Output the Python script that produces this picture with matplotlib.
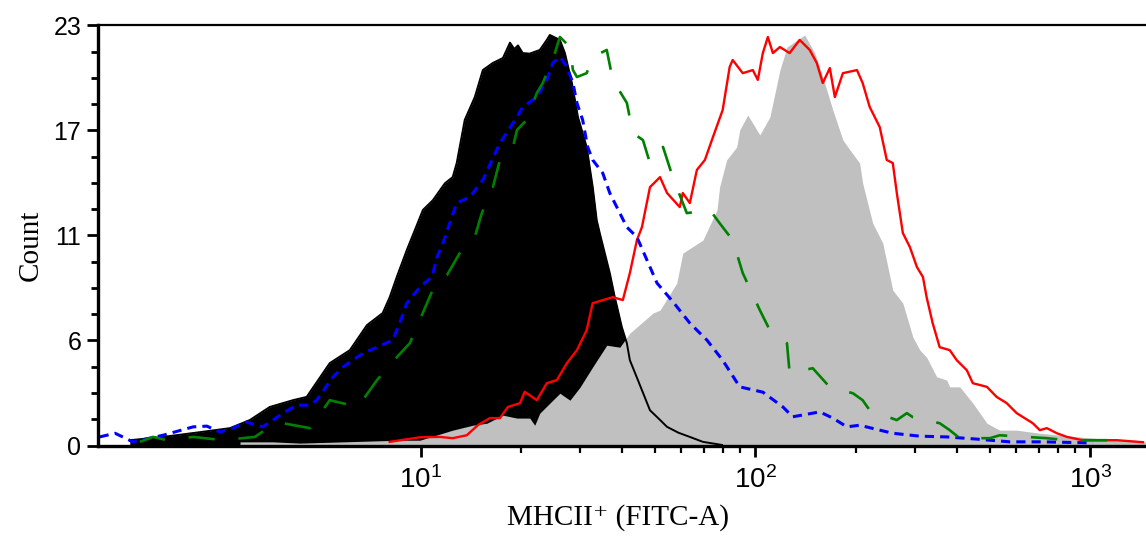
import numpy as np
import matplotlib
matplotlib.use("Agg")
import matplotlib.pyplot as plt
from matplotlib.ticker import FixedLocator, NullFormatter

plt.rcParams['mathtext.fontset'] = 'custom'
plt.rcParams['mathtext.rm'] = 'Liberation Sans'
plt.rcParams['mathtext.it'] = 'Liberation Sans:italic'
plt.rcParams['mathtext.bf'] = 'Liberation Sans:bold'
plt.rcParams['font.family'] = ['Liberation Sans', 'DejaVu Sans']

# ---------------- data (log10 of FITC-A intensity, cell count) ----------------
black_logx = [0.132, 0.222, 0.341, 0.431, 0.490, 0.550, 0.619, 0.660, 0.729, 0.789,
              0.840, 0.887, 0.908, 0.929, 0.959, 0.983, 1.007, 1.037, 1.073, 1.096,
              1.108, 1.132, 1.162, 1.186, 1.216, 1.246, 1.267, 1.280, 1.291, 1.305,
              1.326, 1.356, 1.377, 1.386, 1.416, 1.431, 1.452, 1.470, 1.496, 1.514,
              1.526, 1.535, 1.565, 1.580, 1.601, 1.616, 1.625, 1.649, 1.685, 1.715,
              1.736, 1.770, 1.804, 1.843, 1.900]
black_count = [0.29, 0.45, 0.73, 0.95, 1.39, 2.11, 2.48, 2.66, 4.51, 5.22,
               6.59, 7.25, 8.12, 9.22, 10.70, 11.79, 12.89, 13.43, 14.36, 14.69,
               15.46, 17.82, 19.07, 20.55, 20.94, 21.21, 22.05, 21.70, 21.90, 21.48,
               21.45, 21.65, 22.20, 22.47, 22.20, 21.48, 19.84, 17.98, 16.34, 14.16,
               12.34, 11.63, 9.44, 8.12, 6.48, 5.60, 4.67, 3.58, 1.93, 1.40,
               1.02, 0.70, 0.47, 0.20, 0.03]

gray_logx = [0.461, 0.559, 0.640, 0.938, 0.998, 1.096, 1.156, 1.198, 1.246, 1.288,
             1.326, 1.341, 1.356, 1.395, 1.416, 1.446, 1.476, 1.514, 1.556, 1.595,
             1.625, 1.694, 1.715, 1.765, 1.783, 1.843, 1.885, 1.893, 1.914, 1.944,
             1.953, 1.977, 2.013, 2.043, 2.073, 2.094, 2.147, 2.177, 2.201, 2.231,
             2.261, 2.282, 2.311, 2.320, 2.350, 2.380, 2.410, 2.440, 2.470, 2.491,
             2.511, 2.541, 2.571, 2.580, 2.610, 2.649, 2.691, 2.729, 2.780, 2.849,
             3.007, 3.097, 3.166]
gray_count = [0.20, 0.20, 0.13, 0.29, 0.29, 0.84, 1.11, 1.22, 1.66, 1.50,
              1.50, 1.11, 1.77, 2.48, 2.86, 2.48, 3.19, 4.30, 5.49, 5.38,
              6.15, 7.25, 7.41, 8.89, 10.53, 11.24, 12.89, 14.16, 15.63, 16.34,
              17.27, 18.09, 17.00, 17.98, 20.55, 21.81, 22.47, 21.48, 20.17, 18.36,
              16.72, 16.18, 15.46, 14.36, 12.17, 11.08, 8.50, 7.79, 5.93, 5.22,
              4.83, 3.76, 3.58, 3.21, 3.21, 2.32, 1.22, 0.84, 0.84, 0.67,
              0.40, 0.29, 0.18]

red_logx = [0.908, 0.998, 1.058, 1.096, 1.138, 1.171, 1.207, 1.237, 1.261, 1.297,
            1.311, 1.347, 1.377, 1.407, 1.437, 1.467, 1.496, 1.514, 1.574, 1.604,
            1.625, 1.646, 1.661, 1.685, 1.715, 1.736, 1.774, 1.783, 1.804, 1.825,
            1.849, 1.873, 1.902, 1.923, 1.932, 1.962, 1.992, 2.007, 2.022, 2.037,
            2.052, 2.073, 2.102, 2.132, 2.162, 2.183, 2.201, 2.222, 2.237, 2.261,
            2.303, 2.320, 2.341, 2.371, 2.392, 2.410, 2.422, 2.440, 2.461, 2.482,
            2.500, 2.511, 2.529, 2.550, 2.580, 2.601, 2.631, 2.649, 2.691, 2.720,
            2.750, 2.780, 2.828, 2.849, 2.870, 2.900, 2.930, 2.977, 3.079, 3.157]
red_count = [0.20, 0.45, 0.47, 0.40, 0.56, 1.11, 1.50, 1.50, 2.11, 2.32,
             2.94, 2.48, 3.41, 3.58, 4.51, 5.22, 6.31, 7.79, 8.12, 7.96,
             9.44, 11.24, 11.95, 14.14, 14.69, 13.82, 13.05, 13.82, 13.27, 15.08,
             15.63, 16.88, 18.36, 20.72, 21.10, 20.38, 20.55, 20.01, 21.48, 22.36,
             21.48, 21.81, 21.48, 22.20, 21.65, 20.94, 19.84, 20.66, 19.07, 20.38,
             20.55, 19.84, 18.53, 17.43, 15.63, 15.46, 13.82, 11.63, 10.86, 9.77,
             9.22, 8.12, 6.70, 5.38, 5.22, 4.67, 4.12, 3.41, 3.21, 2.66,
             2.32, 1.77, 1.22, 0.84, 0.95, 0.67, 0.47, 0.29, 0.29, 0.18]

blue_logx = [0.042, 0.088, 0.141, 0.231, 0.321, 0.362, 0.401, 0.440, 0.481, 0.490,
             0.529, 0.559, 0.589, 0.631, 0.670, 0.690, 0.738, 0.768, 0.798, 0.828,
             0.870, 0.917, 0.938, 0.959, 0.998, 1.034, 1.049, 1.067, 1.087, 1.108,
             1.147, 1.186, 1.237, 1.288, 1.305, 1.347, 1.377, 1.395, 1.416, 1.437,
             1.455, 1.467, 1.484, 1.499, 1.514, 1.544, 1.565, 1.595, 1.616, 1.646,
             1.676, 1.706, 1.753, 1.804, 1.855, 1.902, 1.953, 2.022, 2.082, 2.111,
             2.192, 2.231, 2.273, 2.311, 2.371, 2.410, 2.491, 2.571, 2.661, 2.759,
             2.858, 3.007]
blue_count = [0.47, 0.67, 0.20, 0.56, 1.02, 1.06, 0.74, 0.95, 1.29, 1.22,
              1.02, 1.39, 1.77, 2.21, 2.21, 2.48, 3.74, 4.29, 4.67, 5.05,
              5.38, 5.77, 6.70, 7.79, 8.67, 9.22, 10.31, 11.08, 12.17, 13.27,
              13.60, 14.53, 16.56, 17.98, 18.53, 19.07, 20.01, 20.94, 21.27, 20.72,
              19.84, 18.75, 17.82, 16.34, 15.63, 14.91, 13.82, 12.72, 11.95, 11.41,
              10.15, 8.89, 7.88, 6.70, 5.77, 4.67, 3.21, 2.92, 2.11, 1.57,
              1.84, 1.50, 1.02, 1.11, 0.84, 0.67, 0.51, 0.47, 0.35, 0.20,
              0.20, 0.14]

green_logx = [0.162, 0.201, 0.243, 0.321, 0.410, 0.505, 0.550, 0.589, 0.670, 0.729,
              0.813, 0.870, 0.929, 0.968, 1.013, 1.049, 1.079, 1.117, 1.162, 1.183,
              1.216, 1.237, 1.276, 1.288, 1.317, 1.347, 1.365, 1.401, 1.416, 1.425,
              1.446, 1.455, 1.467, 1.496, 1.514, 1.556, 1.574, 1.616, 1.634, 1.664,
              1.685, 1.724, 1.753, 1.795, 1.864, 1.893, 1.932, 1.962, 2.013, 2.043,
              2.094, 2.102, 2.171, 2.222, 2.291, 2.320, 2.341, 2.422, 2.452, 2.470,
              2.550, 2.580, 2.610, 2.700, 2.729, 2.870, 2.930, 3.088]
green_count = [0.20, 0.47, 0.29, 0.47, 0.29, 0.47, 1.02, 1.22, 0.95, 2.48,
               2.11, 3.58, 4.83, 5.60, 7.52, 9.05, 9.33, 10.53, 11.41, 12.72,
               14.14, 15.63, 16.34, 17.27, 17.82, 19.29, 19.84, 21.48, 22.36, 22.20,
               21.81, 20.55, 20.17, 20.38, 21.27, 21.65, 20.01, 18.75, 17.10, 16.72,
               15.46, 16.34, 14.69, 12.72, 12.89, 12.17, 11.24, 9.44, 7.41, 6.31,
               5.60, 3.96, 4.23, 3.19, 2.86, 2.48, 1.93, 1.39, 1.77, 1.55,
               1.22, 0.84, 0.40, 0.40, 0.56, 0.40, 0.29, 0.29]

y_tick_values = [0, 5.75, 11.5, 17.25, 23]
y_tick_labels = ['0', '6', '11', '17', '23']
x_tick_values = [10, 100, 1000]
x_tick_labels = [r'$\mathregular{10^{1}}$', r'$\mathregular{10^{2}}$', r'$\mathregular{10^{3}}$']
x_label = 'MHCII\u207a (FITC-A)'
y_label = 'Count'

# ---------------- figure ----------------
W, H = 1146, 536
fig = plt.figure(figsize=(W / 100, H / 100), dpi=100)
ax = fig.add_axes([98 / W, 1 - 445.5 / H, (W - 98) / W, (445.5 - 25.3) / H])

bx = 10 ** np.array(black_logx)
gx = 10 ** np.array(gray_logx)
ax.fill_between(bx, 0, black_count, color='black', lw=0, zorder=1)
ax.fill_between(gx, 0, gray_count, color='#c0c0c0', lw=0, zorder=2)
ax.plot(bx, black_count, color='black', lw=1.4, zorder=3)
ax.plot(10 ** np.array(red_logx), red_count, color='#ff0000', lw=1.7, zorder=4)
ax.plot(10 ** np.array(blue_logx), blue_count, color='#0000ff', lw=2.2,
        dashes=(3, 2), zorder=5)
ax.plot(10 ** np.array(green_logx), green_count, color='#008000', lw=1.9,
        dashes=(10, 9), zorder=6)

ax.set_xscale('log')
ax.set_xlim(10 ** 0.037, 10 ** 3.166)
ax.set_ylim(0, 23)

ax.xaxis.set_major_locator(FixedLocator(x_tick_values))
ax.set_xticklabels(x_tick_labels)
ax.xaxis.set_minor_locator(FixedLocator([k * 10 ** d for d in (1, 2) for k in range(2, 10)]))
ax.xaxis.set_minor_formatter(NullFormatter())
ax.yaxis.set_major_locator(FixedLocator(y_tick_values))
ax.set_yticklabels(y_tick_labels)
ax.yaxis.set_minor_locator(FixedLocator(list(np.arange(0, 23.01, 23 / 16))))

ax.tick_params(axis='both', which='major', direction='out', width=2.0, color='black')
ax.tick_params(axis='y', which='major', length=8, pad=4, labelsize=18)
ax.tick_params(axis='x', which='major', length=8, pad=7, labelsize=20)
ax.tick_params(axis='y', which='minor', direction='out', length=5, width=2.0)
ax.tick_params(axis='x', which='minor', direction='out', length=5, width=1.6)

ax.spines['right'].set_visible(False)
ax.spines['left'].set_linewidth(2.4)
ax.spines['bottom'].set_linewidth(2.4)
ax.spines['top'].set_linewidth(1.6)
for s in ax.spines.values():
    s.set_zorder(10)

serif = ['Liberation Serif', 'DejaVu Serif']
ax.set_xlabel(x_label, fontsize=21, family=serif)
ax.set_ylabel(y_label, fontsize=21, family=serif)
ax.xaxis.set_label_coords(0.496, -0.14)
ax.yaxis.set_label_coords(-0.052, 0.477)

fig.savefig('out.png', dpi=100)
